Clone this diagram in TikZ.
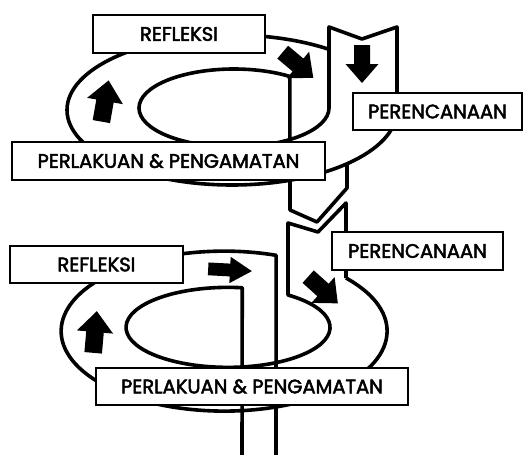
\documentclass[tikz,border=0pt]{standalone}
\usepackage{fontspec}
\newfontfamily\lblfont{Poppins}[FakeBold=2.5]
\tikzset{
  lblbox/.style={draw, fill=white, line width=2.2pt, inner sep=0pt,
    font=\lblfont\fontsize{19.5}{21}\selectfont},
  ribbon/.style={line width=3.6pt, line join=round},
  blockarrow/.pic={\fill (-19,-8) -- (0,-8) -- (0,-16.5) -- (19,0) -- (0,16.5) -- (0,8) -- (-19,8) -- cycle;}
}
\begin{document}
\begin{tikzpicture}[x=1pt,y=-1pt]
  \useasboundingbox (0,0) rectangle (525,455);
  % upper turn of the spiral
  \draw[ribbon] (397,110) arc[start angle=0, end angle=306, x radius=165, y radius=75];
  \draw[ribbon] (397,110) -- (397,27) -- (362,39) -- (329,27) -- (329,108)
    arc[start angle=0, end angle=306, x radius=95, y radius=39]
    -- (290,210) -- (317,222) -- (347,188) -- (347,164);
  % lower turn of the spiral
  \draw[ribbon] (346,278) arc[start angle=-41.6, end angle=288.6, x radius=163, y radius=80] -- (276,455);
  \draw[ribbon] (346,278) -- (346,203) -- (318,232) -- (288,223) -- (288,295)
    arc[start angle=-54, end angle=278, x radius=102, y radius=40] -- (242,455);
  % block arrows
  \pic[rotate=-90] at (362,64) {blockarrow};
  \pic[rotate=-40, scale=1.05] at (298,65) {blockarrow};
  \pic[rotate=80, scale=1.1] at (105,101) {blockarrow};
  \pic[rotate=-3, xscale=1.15, yscale=0.8] at (230,270) {blockarrow};
  \pic[rotate=-42, scale=1.05] at (323,290) {blockarrow};
  \pic[rotate=85, scale=1.1] at (95,332) {blockarrow};
  % labels
  \node[lblbox, minimum width=172pt, minimum height=38pt] (refl1) at (179,34) {REFLEKSI};
  \node[lblbox, minimum width=169pt, minimum height=37pt] (renc1) at (437.5,111.5) {PERENCANAAN};
  \node[lblbox, minimum width=313pt, minimum height=38pt] (laku1) at (168.5,161) {PERLAKUAN \& PENGAMATAN};
  \node[lblbox, minimum width=173pt, minimum height=37pt] (refl2) at (96.5,264.5) {REFLEKSI};
  \node[lblbox, minimum width=171pt, minimum height=38pt] (renc2) at (417.5,251) {PERENCANAAN};
  \node[lblbox, minimum width=312pt, minimum height=37pt] (laku2) at (252,386.5) {PERLAKUAN \& PENGAMATAN};
\end{tikzpicture}
\end{document}
